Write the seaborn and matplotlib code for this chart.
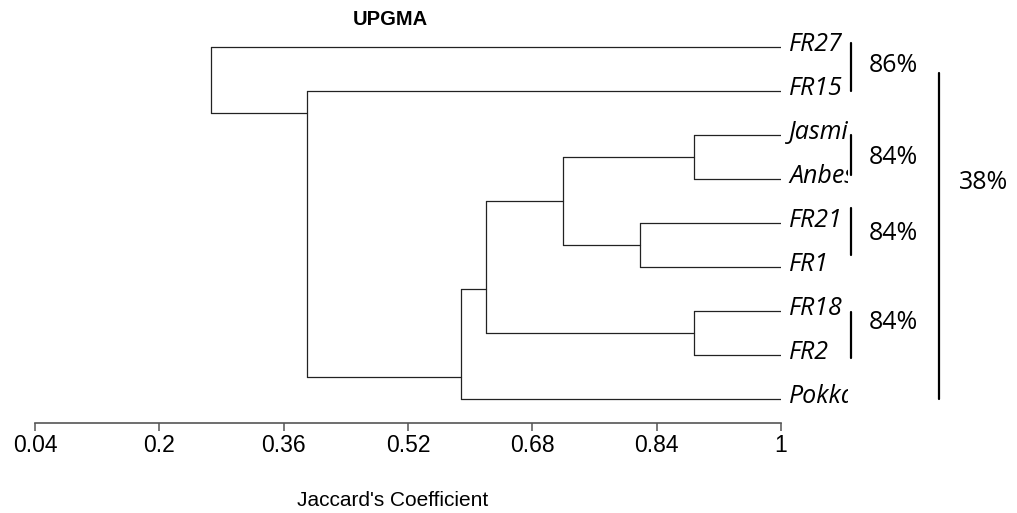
import numpy as np
import pandas as pd
import matplotlib
matplotlib.use("Agg")
import matplotlib.pyplot as plt
from matplotlib.transforms import ScaledTranslation, Bbox, TransformedBbox
import seaborn as sns

# === Data ===
leaves = ["FR27", "FR15", "Jasmine", "Anbessa", "FR21", "FR1", "FR18", "FR2", "Pokkali"]
# merges: ids 0..8 are leaves, merge k creates cluster 9+k
merge_left = [2, 4, 6, 9, 12, 13, 1, 0]
merge_right = [3, 5, 7, 10, 11, 8, 14, 15]
merge_sim = [0.888, 0.819, 0.888, 0.720, 0.620, 0.588, 0.390, 0.266]
# row where the parent branch attaches (as drawn in the figure)
merge_row = [2.5, 4.5, 6.5, 3.5, 5.5, 7.5, 1.5, 0.75]

tick_vals = [0.04, 0.2, 0.36, 0.52, 0.68, 0.84, 1.0]
tick_labels = ["0.04", "0.2", "0.36", "0.52", "0.68", "0.84", "1"]

group_top = [-0.09, 2.0, 3.66, 6.02]
group_bottom = [1.0, 2.91, 4.73, 7.07]
group_label = ["86%", "84%", "84%", "84%"]
group_label_row = [0.41, 2.5, 4.23, 6.27]
outer_top, outer_bottom, outer_label, outer_label_row = 0.59, 8.0, "38%", 3.09

# === Build segments ===
n = len(leaves)
node_x = {i: 1.0 for i in range(n)}
node_y = {i: float(i) for i in range(n)}
segs = []
for k, (a, b, s, r) in enumerate(zip(merge_left, merge_right, merge_sim, merge_row)):
    nid = n + k
    node_x[nid], node_y[nid] = s, r
    segs.append([(s, node_y[a]), (s, node_y[b])])
    segs.append([(s, node_y[a]), (node_x[a], node_y[a])])
    segs.append([(s, node_y[b]), (node_x[b], node_y[b])])

rows = []
for i, seg in enumerate(segs):
    for x, y in seg:
        rows.append({"x": x, "y": y, "seg": i})
df = pd.DataFrame(rows)

# === Plot ===
sns.set_theme(style="white")
plt.rcParams["font.family"] = ["Liberation Sans", "DejaVu Sans"]
plt.rcParams["text.color"] = "black"
plt.rcParams["xtick.labelcolor"] = "black"

fig = plt.figure(figsize=(10.17, 5.13), dpi=100)
ax = fig.add_axes([35 / 1017, 1 - 423 / 513, 746 / 1017, 403 / 513])

sns.lineplot(data=df, x="x", y="y", units="seg", estimator=None, sort=False,
             color="#222222", linewidth=0.9, ax=ax)

ax.set_xlim(0.04, 1.0)
ax.set_ylim(8.545, -0.614)
ax.set_xlabel("")
ax.set_ylabel("")
ax.set_yticks([])
ax.set_xticks(tick_vals)
ax.set_xticklabels(tick_labels, fontsize=16.5, color="black")
for side in ["top", "left", "right"]:
    ax.spines[side].set_visible(False)
ax.spines["bottom"].set_color("#555555")
ax.spines["bottom"].set_linewidth(1.2)
ax.tick_params(axis="x", direction="out", length=6, width=1.1, color="#555555",
               pad=2, bottom=True)

# leaf labels, clipped on the right like the original
clip = TransformedBbox(Bbox([[0, 0], [848 / 1017, 1]]), fig.transFigure)
off = ScaledTranslation(6 / 72, 2 / 72, fig.dpi_scale_trans)
for i, name in enumerate(leaves):
    t = fig.text(1.0, i, name, transform=ax.transData + off, fontsize=18,
                 family=["Open Sans", "DejaVu Sans"], style="italic",
                 ha="left", va="center", color="black")
    t.set_clip_box(clip)
    t.set_clip_on(True)

# group brackets
bx = 0.04 + (851 - 35) / 777
for top, bot, lab, lr in zip(group_top, group_bottom, group_label, group_label_row):
    ax.plot([bx, bx], [top, bot], color="black", lw=1.6, clip_on=False)
    ax.text(0.04 + (869 - 35) / 777, lr, lab, fontsize=18, family=["Open Sans", "DejaVu Sans"],
            ha="left", va="center", clip_on=False, color="black")
ox = 0.04 + (939 - 35) / 777
ax.plot([ox, ox], [outer_top, outer_bottom], color="black", lw=1.6, clip_on=False)
ax.text(0.04 + (959 - 35) / 777, outer_label_row, outer_label, fontsize=18,
        family=["Open Sans", "DejaVu Sans"], ha="left", va="center", clip_on=False,
        color="black")

fig.text(390 / 1017, 1 - 19.5 / 513, "UPGMA", fontsize=14.5, fontweight="bold",
         ha="center", va="center", color="black")
fig.text(393 / 1017, 1 - 500 / 513, "Jaccard's Coefficient", fontsize=15,
         ha="center", va="center", color="black")

fig.savefig("out.png", dpi=100)
